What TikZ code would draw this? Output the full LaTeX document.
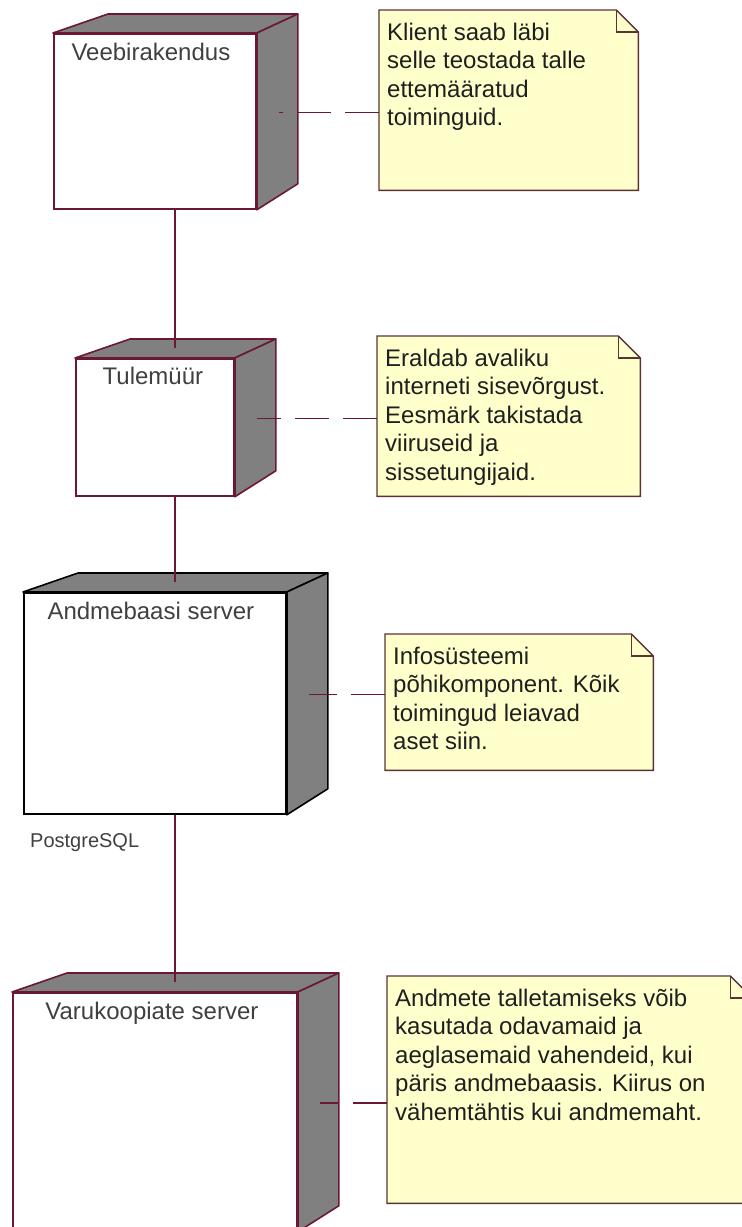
\documentclass[tikz,border=0pt]{standalone}
\usepackage{fontspec}
\setmainfont{Liberation Sans}
\usetikzlibrary{positioning,backgrounds}
\definecolor{nodered}{rgb}{0.42,0.09,0.22}
\definecolor{sidegray}{rgb}{0.5,0.5,0.5}
\definecolor{noteyellow}{rgb}{1.0,1.0,0.8}
\definecolor{notebrown}{rgb}{0.36,0.2,0.2}
\definecolor{labelgray}{rgb}{0.25,0.25,0.25}
\tikzset{
  device/.style={draw=nodered, fill=white, line width=1.8pt, anchor=north west, inner sep=0pt},
  depthface/.style={draw=#1, fill=sidegray, line width=1.6pt, line join=round},
  devlabel/.style={inner sep=0pt, text=labelgray, font=\fontsize{24}{28}\selectfont},
  notebox/.style={anchor=north west, inner xsep=8pt, inner ysep=10pt, text=black!88, font=\fontsize{24}{28.5}\selectfont},
  noteedge/.style={draw=notebrown, fill=noteyellow, line width=1.4pt},
  link/.style={draw=nodered, line width=1.3pt},
  notelink/.style={draw=nodered, line width=1.3pt, dash pattern=on 34pt off 14pt},
}
% top and side faces of a device box
\newcommand{\devicedepth}[2][nodered]{%
  \filldraw[depthface=#1] (#2.north west) -- ++(55,-19) -- ([shift={(41,-19)}]#2.north east) -- (#2.north east) -- cycle;
  \filldraw[depthface=#1] (#2.north east) -- ++(41,-19) -- ([shift={(41,-26)}]#2.south east) -- (#2.south east) -- cycle;
  \draw[#1, line width=2.4pt] (#2.north east) -- (#2.south east);
  \coordinate (#2-top) at ([shift={(0,-10)}]#2.north);
  \coordinate (#2-side) at ([shift={(22,-9)}]#2.east);
}
% note paper with folded corner
\newcommand{\notepaper}[1]{%
  \begin{pgfonlayer}{background}
    \filldraw[noteedge] (#1.north west) -- ([xshift=-22pt]#1.north east) -- ([yshift=-22pt]#1.north east) -- (#1.south east) -- (#1.south west) -- cycle;
    \draw[noteedge, fill=none] ([xshift=-22pt]#1.north east) |- ([yshift=-22pt]#1.north east);
  \end{pgfonlayer}
}
\begin{document}
\begin{tikzpicture}[x=1pt, y=-1pt]
  \useasboundingbox (0,0) rectangle (742,1227);
  \coordinate (spine) at (175,0);

  % devices
  \node[device, minimum width=202pt, minimum height=175pt] (web) at (53,33) {};
  \node[device, minimum width=158pt, minimum height=137pt] (fw) at (75,358) {};
  \node[device, draw=black, minimum width=262pt, minimum height=221pt] (db) at (23,592) {};
  \node[device, minimum width=284pt, minimum height=238pt] (bak) at (12,992) {};
  \devicedepth{web}
  \devicedepth{fw}
  \devicedepth[black]{db}
  \devicedepth{bak}

  \node[devlabel, below=10pt of web.north, xshift=-4pt] (weblbl) {Veebirakendus};
  \node[devlabel, below=9pt of fw.north, xshift=-2pt] (fwlbl) {Tulemüür};
  \node[devlabel, below=10pt of db.north, xshift=-4pt] (dblbl) {Andmebaasi server};
  \node[devlabel, below=10pt of bak.north, xshift=-3pt] (baklbl) {Varukoopiate server};
  \node[inner sep=0pt, anchor=north west, text=labelgray, font=\fontsize{20}{24}\selectfont] (pg) at ([shift={(7,19)}]db.south west) {PostgreSQL};

  % links between devices
  \draw[link] (web.south -| spine) -- (fw-top -| spine);
  \draw[link] (fw.south -| spine) -- (db-top -| spine);
  \draw[link] (db.south -| spine) -- (bak-top -| spine);

  % notes
  \node[notebox] (note1) at (379,10) {\parbox[t][160pt][t]{243pt}{\raggedright\strut Klient saab läbi\\selle teostada talle\\ettemääratud\\toiminguid.}};
  \node[notebox] (note2) at (377,336) {\parbox[t][140pt][t]{247pt}{\raggedright\strut Eraldab avaliku\\interneti sisevõrgust.\\Eesmärk takistada\\viiruseid ja\\sissetungijaid.}};
  \node[notebox] (note3) at (385,634) {\parbox[t][116pt][t]{252pt}{\raggedright\strut Infosüsteemi\\põhikomponent. Kõik\\toimingud leiavad\\aset siin.}};
  \node[notebox] (note4) at (387,976) {\parbox[t][207pt][t]{349pt}{\raggedright\strut Andmete talletamiseks võib\\kasutada odavamaid ja\\aeglasemaid vahendeid, kui\\päris andmebaasis. Kiirus on\\vähemtähtis kui andmemaht.}};
  \notepaper{note1}
  \notepaper{note2}
  \notepaper{note3}
  \notepaper{note4}

  % dashed note links
  \draw[notelink] (note1.west |- web-side) -- (web-side);
  \draw[notelink] (note2.west |- fw-side) -- (fw-side);
  \draw[notelink] (note3.west |- db-side) -- (db-side);
  \draw[notelink] (note4.west |- bak-side) -- (bak-side);
\end{tikzpicture}
\end{document}
